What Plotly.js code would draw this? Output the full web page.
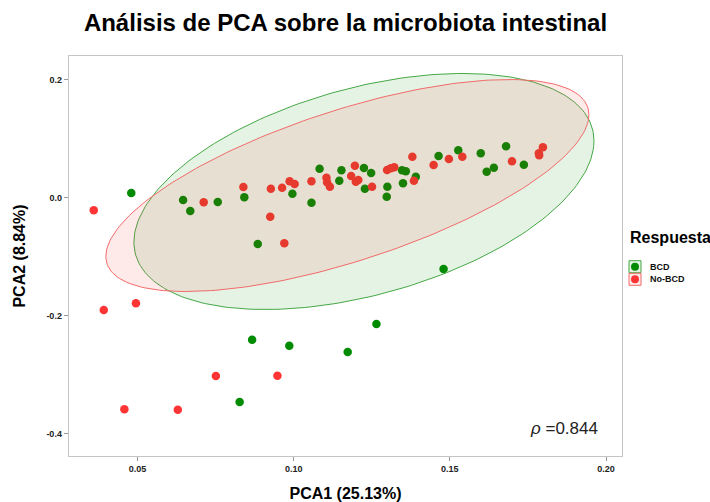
<!DOCTYPE html>
<html>
<head>
<meta charset="utf-8">
<script src="https://cdn.plot.ly/plotly-3.0.1.min.js"></script>
<style>html,body{margin:0;padding:0;background:#fff;}#chart{width:710px;height:502px;}</style>
</head>
<body>
<div id="chart"></div>
<script>
// ---- data ----
const groups = ['BCD', 'No-BCD'];
const bcdX = [0.0480,0.0646,0.0669,0.0757,0.0842,0.0996,0.0885,0.1057,0.1083,0.1153,0.1146,0.1225,0.1248,0.1228,0.1300,0.1298,0.1347,0.1359,0.1350,0.1391,0.1464,0.1527,0.1599,0.1618,0.1641,0.1680,0.1737,0.1480,0.0867,0.0986,0.1173,0.1265,0.0827];
const bcdY = [0.0076,-0.0042,-0.0229,-0.0076,0.0003,0.0064,-0.0788,-0.0088,0.0488,0.0461,0.0285,0.0500,0.0415,0.0149,0.0183,0.0014,0.0461,0.0444,0.0241,0.0353,0.0703,0.0800,0.0749,0.0437,0.0505,0.0868,0.0556,-0.1212,-0.2410,-0.2512,-0.2619,-0.2144,-0.3466];
const nobcdX = [0.0360,0.0712,0.0839,0.0927,0.0925,0.0963,0.0987,0.1003,0.0970,0.1057,0.1105,0.1107,0.1116,0.1196,0.1184,0.1199,0.1207,0.1251,0.1299,0.1311,0.1322,0.1385,0.1380,0.1448,0.1497,0.1540,0.1699,0.1785,0.1786,0.1798,0.0392,0.0495,0.0751,0.0948,0.0458,0.0629];
const nobcdY = [-0.0217,-0.0081,0.0178,0.0149,-0.0325,0.0166,0.0275,0.0229,-0.0776,0.0275,0.0336,0.0258,0.0183,0.0539,0.0364,0.0268,0.0297,0.0183,0.0466,0.0495,0.0512,0.0285,0.0692,0.0551,0.0653,0.0692,0.0614,0.0749,0.0715,0.0851,-0.1907,-0.1793,-0.3025,-0.3020,-0.3590,-0.3597];
// confidence ellipse parameters per group (centre and shape matrix, data units)
const ellipseCenterX = [0.1225, 0.1172];
const ellipseCenterY = [0.0102, 0.0203];
const ellipseVarX = [0.0054239, 0.0059799];
const ellipseVarY = [0.0400, 0.032278];
const ellipseCovXY = [0.0063227, 0.0092805];
const xTickVals = [0.05, 0.10, 0.15, 0.20];
const xTickText = ['0.05', '0.10', '0.15', '0.20'];
const yTickVals = [0.2, 0.0, -0.2, -0.4];
const yTickText = ['0.2', '0.0', '-0.2', '-0.4'];
const rhoValue = '0.844';

// ---- styles ----
const pointColors = ['#008B00', '#FF3434'];
const fillColors = ['rgba(0,139,0,0.1)', 'rgba(255,48,48,0.1)'];
const lineColors = ['#45a845', '#f26a6a'];
const FONT = 'Liberation Sans, Arial, Helvetica, sans-serif';

function ellipse(i) {
  const l11 = Math.sqrt(ellipseVarX[i]);
  const l21 = ellipseCovXY[i] / l11;
  const l22 = Math.sqrt(ellipseVarY[i] - l21 * l21);
  const xs = [], ys = [];
  const n = 240;
  for (let k = 0; k <= n; k++) {
    const t = 2 * Math.PI * k / n;
    xs.push(ellipseCenterX[i] + l11 * Math.cos(t));
    ys.push(ellipseCenterY[i] + l21 * Math.cos(t) + l22 * Math.sin(t));
  }
  return {xs, ys};
}

const ptsX = [bcdX, nobcdX], ptsY = [bcdY, nobcdY];
const traces = [];
groups.forEach((g, i) => {
  traces.push({
    type: 'scatter', mode: 'markers', name: g, x: ptsX[i], y: ptsY[i],
    marker: {color: pointColors[i], size: 8.5, line: {width: 0}},
    showlegend: false, hoverinfo: 'x+y+name'
  });
});
groups.forEach((g, i) => {
  const e = ellipse(i);
  traces.push({
    type: 'scatter', mode: 'lines', name: g + ' ellipse', x: e.xs, y: e.ys,
    fill: 'toself', fillcolor: fillColors[i],
    line: {color: lineColors[i], width: 1}, showlegend: false, hoverinfo: 'skip'
  });
});

// legend drawn in paper coordinates (ggplot-style keys)
const W = 553, H = 400, L0 = 69, T0 = 56;
const px = v => (v - L0) / W;
const py = v => (T0 + H - v) / H;
const keyTop = [260.7, 273.3];
const shapes = [];
const annotations = [];
groups.forEach((g, i) => {
  shapes.push({type: 'rect', xref: 'paper', yref: 'paper',
    x0: px(629), x1: px(641), y0: py(keyTop[i] + 12), y1: py(keyTop[i]),
    fillcolor: fillColors[i], line: {color: lineColors[i], width: 1}});
  shapes.push({type: 'circle', xref: 'paper', yref: 'paper',
    x0: px(631), x1: px(639), y0: py(keyTop[i] + 10), y1: py(keyTop[i] + 2),
    fillcolor: pointColors[i], line: {width: 0}});
  annotations.push({xref: 'paper', yref: 'paper', x: px(648), y: py(keyTop[i] + 6),
    xanchor: 'left', yanchor: 'middle', showarrow: false, text: g,
    font: {family: FONT, size: 9, weight: 'bold', color: '#111'}});
});
annotations.push({xref: 'paper', yref: 'paper', x: px(628), y: py(237),
  xanchor: 'left', yanchor: 'middle', showarrow: false, text: 'Respuesta',
  font: {family: FONT, size: 16, weight: 'bold', color: '#000'}});
annotations.push({xref: 'x', yref: 'y', x: 0.1981, y: -0.392,
  xanchor: 'right', yanchor: 'middle', showarrow: false,
  text: '<i>ρ</i> =' + rhoValue,
  font: {family: FONT, size: 17, color: '#222'}});

const layout = {
  width: 710, height: 502,
  margin: {l: 69, r: 88, t: 56, b: 46, pad: 0},
  paper_bgcolor: '#fff', plot_bgcolor: '#fff',
  showlegend: false,
  title: {text: 'Análisis de PCA sobre la microbiota intestinal',
    font: {family: FONT, size: 24, weight: 'bold', color: '#000'},
    x: 0.5, xref: 'paper', xanchor: 'center', y: 1 - 23 / 502, yref: 'container', yanchor: 'middle'},
  xaxis: {range: [0.02807, 0.20512], tickvals: xTickVals, ticktext: xTickText,
    ticks: 'outside', ticklen: 4, tickcolor: '#999', tickwidth: 1,
    showline: true, mirror: true, linecolor: '#c4c4c4', linewidth: 1.3,
    showgrid: false, zeroline: false, automargin: false,
    tickfont: {family: FONT, size: 9, weight: 'bold', color: '#222'},
    title: {text: 'PCA1 (25.13%)', standoff: 15,
      font: {family: FONT, size: 16, weight: 'bold', color: '#000'}}},
  yaxis: {range: [-0.4381, 0.2398], tickvals: yTickVals, ticktext: yTickText,
    ticks: 'outside', ticklen: 4, tickcolor: '#999', tickwidth: 1,
    showline: true, mirror: true, linecolor: '#c4c4c4', linewidth: 1.3,
    showgrid: false, zeroline: false, automargin: false,
    tickfont: {family: FONT, size: 9, weight: 'bold', color: '#222'},
    title: {text: 'PCA2 (8.84%)', standoff: 16,
      font: {family: FONT, size: 16, weight: 'bold', color: '#000'}}},
  shapes: shapes,
  annotations: annotations
};

Plotly.newPlot('chart', traces, layout, {displayModeBar: false, staticPlot: true});
</script>
</body>
</html>
